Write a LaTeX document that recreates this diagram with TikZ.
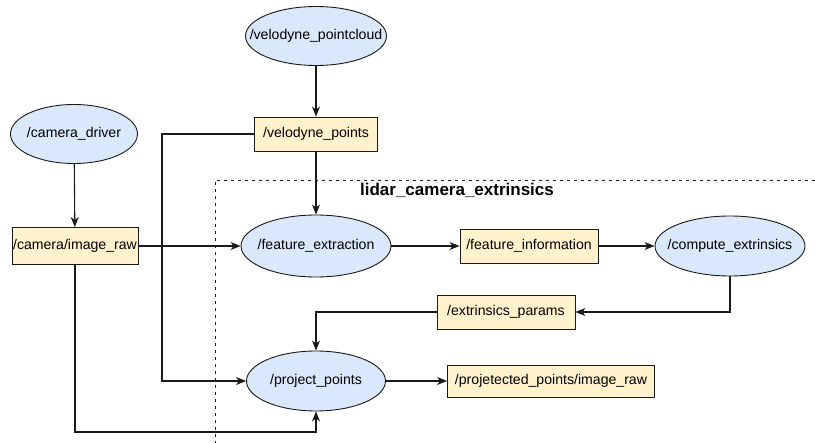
\documentclass[tikz,border=0pt]{standalone}
\usepackage{fontspec}
\setmainfont{Liberation Sans}
\usetikzlibrary{arrows.meta,shapes.geometric}
\definecolor{topicfill}{HTML}{FFF2CC}
\definecolor{nodefill}{HTML}{DAE8FC}
\definecolor{edgeclr}{HTML}{1A1A1A}
\newcommand{\nodefont}{\fontsize{14.1}{16}\selectfont}
\begin{document}
\begin{tikzpicture}[x=1pt,y=-1pt,
  rosnode/.style={ellipse,draw=edgeclr,line width=0.9pt,fill=nodefill,inner sep=0pt,
    label={[font=\nodefont]center:#1}},
  topic/.style={rectangle,draw=edgeclr,line width=0.9pt,fill=topicfill,inner sep=0pt,
    font=\nodefont},
  link/.style={line width=1.1pt,draw=edgeclr,-{Stealth[length=10pt,width=8pt,inset=3pt]}}]
\useasboundingbox (0,0) rectangle (815,443);
\fill[white] (0,0) rectangle (815,443);

% package frame (only its top and left edges fall inside the page)
\draw[dash pattern=on 3.5pt off 3.5pt,line width=0.8pt,draw=edgeclr]
  (815,180) -- (215,180) -- (215,443);
\node[font=\fontsize{17}{19}\bfseries] (pkg) at (457,190) {lidar\_camera\_extrinsics};

% ROS nodes (ellipses) and topics (boxes)
\node[rosnode=/velodyne\_pointcloud,minimum width=141pt,minimum height=59pt] (vpc) at (316,36) {};
\node[rosnode=/camera\_driver,minimum width=127pt,minimum height=59pt] (cd) at (74,134) {};
\node[topic,minimum width=123pt,minimum height=34pt] (vp) at (316,134) {/velodyne\_points};
\node[topic,minimum width=126pt,minimum height=37pt] (cir) at (75,246) {/camera/image\_raw};
\node[rosnode=/feature\_extraction,minimum width=150pt,minimum height=62pt] (fe) at (316,246) {};
\node[topic,minimum width=138pt,minimum height=34pt] (fi) at (529,246) {/feature\_information};
\node[rosnode=/compute\_extrinsics,minimum width=150pt,minimum height=60pt] (ce) at (730,246) {};
\node[topic,minimum width=138pt,minimum height=34pt] (ep) at (506,312) {/extrinsics\_params};
\node[rosnode=/project\_points,minimum width=139pt,minimum height=60pt] (pp) at (316,381) {};
\node[topic,minimum width=207pt,minimum height=32pt] (ppi) at (551,381) {/projetected\_points/image\_raw};

% connectors
\draw[link] (vpc) -- (vp);
\draw[link] (cd) -- (cir);
\draw[link] (vp) -- (fe);
\draw[link] (cir) -- (fe);
\draw[link] (fe) -- (fi);
\draw[link] (fi) -- (ce);
\draw[link] (ce.south) |- (ep.east);
\draw[link] (ep.west) -| (pp.north);
\draw[link] (pp) -- (ppi);
\coordinate (vpbend) at (162,134);
\draw[link] (vp.west) -- (vpbend) |- (pp.west);
\coordinate (cirbend) at (75,432);
\draw[link] (cir.south) -- (cirbend) -| (pp.south);
\end{tikzpicture}
\end{document}
